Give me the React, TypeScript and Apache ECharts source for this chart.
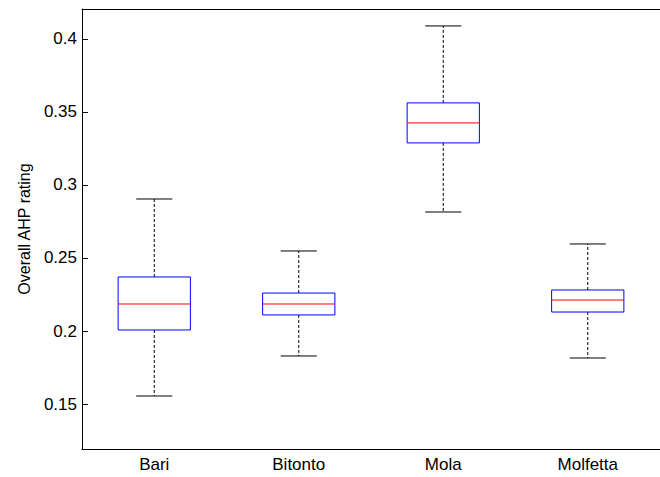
import React, { useEffect, useRef } from "react";
import * as echarts from "echarts";

const categories = ["Bari", "Bitonto", "Mola", "Molfetta"];
const lowerWhisker = [0.1555, 0.1829, 0.2815, 0.1815];
const q1 = [0.2007, 0.211, 0.3288, 0.213];
const median = [0.2185, 0.2185, 0.3425, 0.2212];
const q3 = [0.237, 0.226, 0.3562, 0.2281];
const upperWhisker = [0.2904, 0.2548, 0.4089, 0.2596];
const yTicks = [0.15, 0.2, 0.25, 0.3, 0.35, 0.4];
const yMin = 0.1192;
const yMax = 0.4205;

const FONT = "'Liberation Sans', Arial, Helvetica, sans-serif";

export default function App() {
  const ref = useRef<HTMLDivElement>(null);
  useEffect(() => {
    if (!ref.current) return;
    const chart = echarts.init(ref.current, null, { renderer: "svg" });
    const data = categories.map((c, i) => [
      i,
      lowerWhisker[i],
      q1[i],
      median[i],
      q3[i],
      upperWhisker[i],
    ]);
    const option: any = {
      animation: false,
      backgroundColor: "#ffffff",
      grid: { left: 82, top: 9, width: 586, height: 440 },
      xAxis: [
        {
          type: "category",
          data: categories,
          position: "bottom",
          axisLine: { lineStyle: { color: "#000", width: 1 } },
          axisTick: { inside: true, alignWithLabel: true, length: 4, lineStyle: { color: "#000" } },
          axisLabel: { color: "#000", fontSize: 17, fontFamily: FONT, margin: 7 },
          splitLine: { show: false },
        },
        {
          type: "category",
          data: categories,
          position: "top",
          axisLine: { lineStyle: { color: "#000", width: 1 } },
          axisTick: { inside: true, alignWithLabel: true, length: 4, lineStyle: { color: "#000" } },
          axisLabel: { show: false },
          splitLine: { show: false },
        },
      ],
      yAxis: {
        type: "value",
        min: yMin,
        max: yMax,
        name: "Overall AHP rating",
        nameLocation: "middle",
        nameGap: 50,
        nameTextStyle: { color: "#000", fontSize: 16, fontFamily: FONT },
        axisLine: { show: true, lineStyle: { color: "#000", width: 1 } },
        axisTick: {
          show: true,
          inside: true,
          length: 6,
          customValues: yTicks,
          lineStyle: { color: "#000" },
        },
        axisLabel: {
          color: "#000",
          fontSize: 17,
          fontFamily: FONT,
          margin: 5,
          customValues: yTicks,
        },
        splitLine: { show: false },
      },
      series: [
        {
          type: "custom",
          xAxisIndex: 0,
          yAxisIndex: 0,
          data,
          encode: { x: 0, y: [1, 2, 3, 4, 5] },
          renderItem: (params: any, api: any) => {
            const i = api.value(0);
            const pMin = api.coord([i, api.value(1)]);
            const pQ1 = api.coord([i, api.value(2)]);
            const pMed = api.coord([i, api.value(3)]);
            const pQ3 = api.coord([i, api.value(4)]);
            const pMax = api.coord([i, api.value(5)]);
            const bw = api.size([1, 0])[0] * 0.5;
            const cw = bw * 0.5;
            const x = pMin[0];
            return {
              type: "group",
              children: [
                {
                  type: "line",
                  shape: { x1: x, y1: pQ3[1], x2: x, y2: pMax[1] },
                  style: { stroke: "#000", lineWidth: 1, lineDash: [3, 2] },
                },
                {
                  type: "line",
                  shape: { x1: x, y1: pQ1[1], x2: x, y2: pMin[1] },
                  style: { stroke: "#000", lineWidth: 1, lineDash: [3, 2] },
                },
                {
                  type: "line",
                  shape: { x1: x - cw / 2, y1: pMax[1], x2: x + cw / 2, y2: pMax[1] },
                  style: { stroke: "#000", lineWidth: 1 },
                },
                {
                  type: "line",
                  shape: { x1: x - cw / 2, y1: pMin[1], x2: x + cw / 2, y2: pMin[1] },
                  style: { stroke: "#000", lineWidth: 1 },
                },
                {
                  type: "rect",
                  shape: { x: x - bw / 2, y: pQ3[1], width: bw, height: pQ1[1] - pQ3[1] },
                  style: { stroke: "#0000ff", fill: "none", lineWidth: 1 },
                },
                {
                  type: "line",
                  shape: { x1: x - bw / 2, y1: pMed[1], x2: x + bw / 2, y2: pMed[1] },
                  style: { stroke: "#ff0000", lineWidth: 1 },
                },
              ],
            };
          },
        },
      ],
    };
    chart.setOption(option);
    return () => chart.dispose();
  }, []);
  return (
    <div
      ref={ref}
      style={{ position: "fixed", left: 0, top: 0, width: 660, height: 477, background: "#fff" }}
    />
  );
}
